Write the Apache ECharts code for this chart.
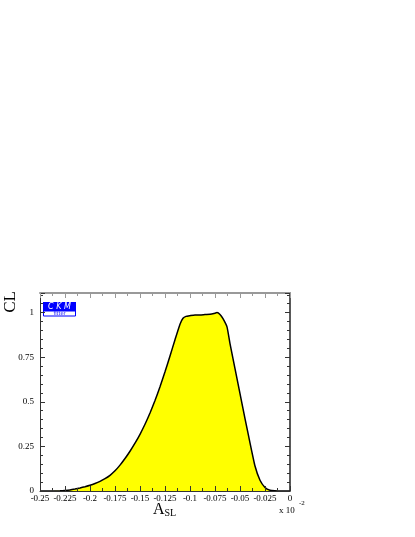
<!DOCTYPE html>
<html>
<head>
<meta charset="utf-8">
<script src="https://cdn.jsdelivr.net/npm/echarts@6/dist/echarts.min.js"></script>
<style>
  html, body { margin: 0; padding: 0; background: #fff; }
  #chart { width: 415px; height: 537px; }
</style>
</head>
<body>
<div id="chart"></div>
<script>
// A_SL in units of 10^-2, CL
const asl = [-0.25, -0.24, -0.23, -0.225, -0.22, -0.215, -0.21, -0.205, -0.2, -0.195, -0.19, -0.185, -0.18, -0.175,
  -0.17, -0.165, -0.16, -0.155, -0.15, -0.145, -0.14, -0.135, -0.13, -0.125, -0.12, -0.115, -0.11, -0.107, -0.104,
  -0.1, -0.095, -0.09, -0.085, -0.08, -0.075, -0.073, -0.07, -0.067, -0.063, -0.06, -0.055, -0.05, -0.045,
  -0.04, -0.035, -0.03, -0.025, -0.02, -0.015, -0.01, 0];
const cl = [0, 0, 0.001, 0.003, 0.006, 0.011, 0.017, 0.024, 0.032, 0.042, 0.054, 0.069, 0.088, 0.113,
  0.145, 0.182, 0.223, 0.268, 0.318, 0.374, 0.437, 0.507, 0.584, 0.668, 0.757, 0.848, 0.935, 0.968, 0.979,
  0.983, 0.987, 0.986, 0.989, 0.991, 0.997, 1.0, 0.99, 0.966, 0.92, 0.826, 0.686, 0.546, 0.406,
  0.27, 0.14, 0.06, 0.02, 0.004, 0.001, 0, 0];
const xTicks = [-0.25, -0.225, -0.2, -0.175, -0.15, -0.125, -0.1, -0.075, -0.05, -0.025, 0];
const yTicks = [0, 0.25, 0.5, 0.75, 1];

const chart = echarts.init(document.getElementById('chart'), null, { renderer: 'canvas' });

const serif = 'Liberation Serif';
const labelStyle = { fontFamily: serif, fontSize: 9, color: '#000' };

const fmt = v => {
  const r = Math.round(v * 1000) / 1000;
  return r === 0 ? '0' : String(r);
};

const option = {
  animation: false,
  grid: { left: 40, right: 125, top: 293, bottom: 46 },
  xAxis: [
    {
      type: 'value', min: -0.25, max: 0, interval: 0.025, z: 5,
      axisLine: { show: true, onZero: false, lineStyle: { color: '#333', width: 1 } },
      axisTick: { inside: true, length: 5, lineStyle: { color: '#333' } },
      minorTick: { show: true, splitNumber: 2, length: 3, lineStyle: { color: '#333' } },
      axisLabel: Object.assign({ margin: 3, formatter: v => xTicks.some(t => Math.abs(t - v) < 1e-6) ? fmt(v) : '' }, labelStyle),
      splitLine: { show: false }
    },
    {
      type: 'value', position: 'top', min: -0.25, max: 0, interval: 0.025, z: 5,
      axisLine: { show: true, onZero: false, lineStyle: { color: '#999', width: 2 } },
      axisTick: { inside: true, length: 5, lineStyle: { color: '#999' } },
      minorTick: { show: true, splitNumber: 2, length: 3, lineStyle: { color: '#999' } },
      axisLabel: { show: false },
      splitLine: { show: false }
    }
  ],
  yAxis: [
    {
      type: 'value', min: 0, max: 1.11, interval: 0.25, z: 5,
      axisLine: { show: true, onZero: false, lineStyle: { color: '#333', width: 1 } },
      axisTick: { inside: true, length: 5, lineStyle: { color: '#333' } },
      minorTick: { show: true, splitNumber: 5, length: 3, lineStyle: { color: '#333' } },
      axisLabel: Object.assign({ margin: 6, showMaxLabel: false,
        formatter: v => yTicks.some(t => Math.abs(t - v) < 1e-6) ? fmt(v) : '' }, labelStyle),
      splitLine: { show: false }
    },
    {
      type: 'value', position: 'right', min: 0, max: 1.11, interval: 0.25, z: 5,
      axisLine: { show: true, onZero: false, lineStyle: { color: '#222', width: 1.5 } },
      axisTick: { inside: true, length: 5, lineStyle: { color: '#333' } },
      minorTick: { show: true, splitNumber: 5, length: 3, lineStyle: { color: '#333' } },
      axisLabel: { show: false },
      splitLine: { show: false }
    }
  ],
  series: [
    {
      type: 'line',
      data: asl.map((x, i) => [x, cl[i]]),
      showSymbol: false,
      smooth: 0.15,
      lineStyle: { color: '#000', width: 1.5 },
      areaStyle: { color: '#ffff00', opacity: 1 },
      z: 2
    }
  ],
  graphic: [
    {
      type: 'text', left: 2, top: 291, rotation: Math.PI / 2,
      style: { text: 'CL', fontFamily: serif, fontSize: 17, fill: '#000' }
    },
    {
      type: 'text', left: 153, top: 502,
      style: {
        text: '{a|A}{s|SL}',
        rich: {
          a: { fontFamily: serif, fontSize: 16, fill: '#000', verticalAlign: 'bottom' },
          s: { fontFamily: serif, fontSize: 10, fill: '#000', padding: [9, 0, 0, 0], verticalAlign: 'bottom' }
        }
      }
    },
    {
      type: 'text', left: 279, top: 506,
      style: { text: 'x 10', fontFamily: serif, fontSize: 9, fill: '#000' }
    },
    {
      type: 'text', left: 299, top: 500,
      style: { text: '-2', fontFamily: serif, fontSize: 7, fill: '#000' }
    },
    {
      type: 'group', left: 43, top: 302,
      children: [
        { type: 'rect', shape: { x: 0, y: 0, width: 33, height: 9 }, style: { fill: '#0000ff' } },
        { type: 'rect', shape: { x: 0.5, y: 9, width: 32, height: 5 }, style: { fill: '#fff', stroke: '#0000ff', lineWidth: 1 } },
        { type: 'text', x: 16.5, y: 0.5, style: { text: 'C K M', fontFamily: 'DejaVu Sans', fontStyle: 'italic', fontSize: 8, fill: '#fff', align: 'center' } },
        { type: 'text', x: 16.5, y: 9.3, style: { text: 'fitter', fontFamily: 'DejaVu Sans', fontSize: 5, fill: '#0000ff', align: 'center' } }
      ]
    }
  ]
};

chart.setOption(option);
</script>
</body>
</html>
